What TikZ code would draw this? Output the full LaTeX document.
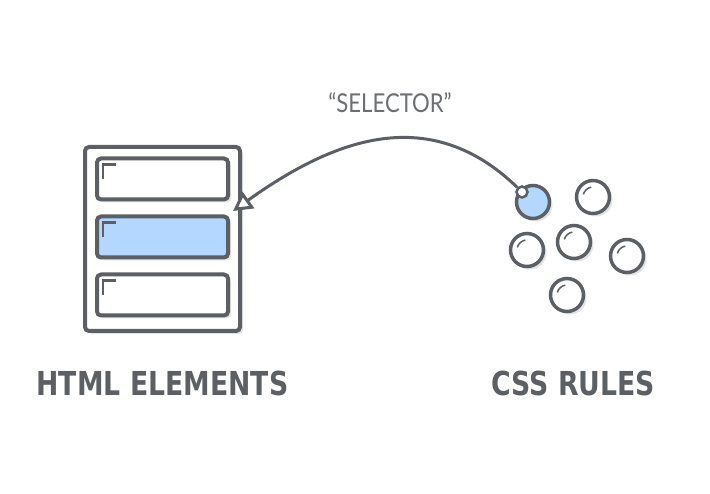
\documentclass[tikz,border=0pt]{standalone}
\usepackage{fontspec}
\setmainfont{Lato}
\newfontfamily\labelfont{DejaVu Sans Condensed}[FakeStretch=0.9]
\newfontfamily\quotefont{Lato}[FakeStretch=0.85]
\usepackage{xcolor}
\definecolor{InkGray}{RGB}{92,96,100}
\definecolor{ShadeGray}{RGB}{228,228,228}
\definecolor{PickBlue}{RGB}{179,215,255}
\usetikzlibrary{positioning}
\usetikzlibrary{calc}
\usetikzlibrary{shadows}
\usetikzlibrary{arrows.meta}

\begin{document}
\begin{tikzpicture}[
      x=1pt, y=1pt
      , flat/.style={drop shadow={shadow xshift=3pt, shadow yshift=-3pt, fill=ShadeGray, opacity=1}}
      , frame/.style={rectangle, draw=InkGray, line width=4pt, fill=white, rounded corners=4pt, minimum width=155pt, minimum height=184pt, inner sep=0pt, flat}
      , row/.style={rectangle, draw=InkGray, line width=4pt, fill=white, rounded corners=4pt, minimum width=131pt, minimum height=41pt, inner sep=0pt, flat}
      , rule/.style={circle, draw=InkGray, line width=3.5pt, fill=white, minimum size=33pt, inner sep=0pt, flat}
      , title/.style={text=InkGray, font=\labelfont\bfseries\fontsize{33}{33}\selectfont}
      , on grid
      ]

      \useasboundingbox (0,0) rectangle (710,493);

      % the page with its elements
      \node[frame] (page) at (162.5,254) {};
      \node[row, fill=PickBlue] (r2) at ($ (page.center)+(0,2) $) {};
      \node[row, above = 58pt of r2] (r1) {};
      \node[row, below = 58pt of r2] (r3) {};

      \foreach \r in {r1,r2,r3}
        \draw[InkGray, line width=2.5pt] ($ (\r.north west)+(8,-23) $) -- ++(0,15) -- ++(13,0);

      % the rules
      \node[rule, fill=PickBlue] (pick) at (533,291) {};
      \foreach \n/\x/\y in {r-a/593/296, r-b/527/243, r-c/574/251, r-d/627/237, r-e/567/198} {
        \node[rule] (\n) at (\x,\y) {};
        \draw[InkGray, line width=1.5pt] ($ (\n)+(100:10) $) arc (100:165:10);
      }

      \node[circle, draw=InkGray, line width=2.5pt, fill=white, minimum size=11pt, inner sep=0pt] (sel) at (522,301) {};
      \coordinate (tip) at ($ (r2.north east)+(3,3.5) $);

      \draw[InkGray, line width=3pt, -{Triangle[length=19pt, width=20pt, fill=white]}] (sel) .. controls (430,390) and (335,355) .. (tip);

      \node[text=InkGray!90, font=\quotefont\fontsize{26}{26}\selectfont] (selector) at (390,390) {“SELECTOR”};

      \node[title, below = 144pt of page] (html-label) {HTML ELEMENTS};
      \node[title, right = 411pt of html-label] (css-label) {CSS RULES};
    \end{tikzpicture}
\end{document}
